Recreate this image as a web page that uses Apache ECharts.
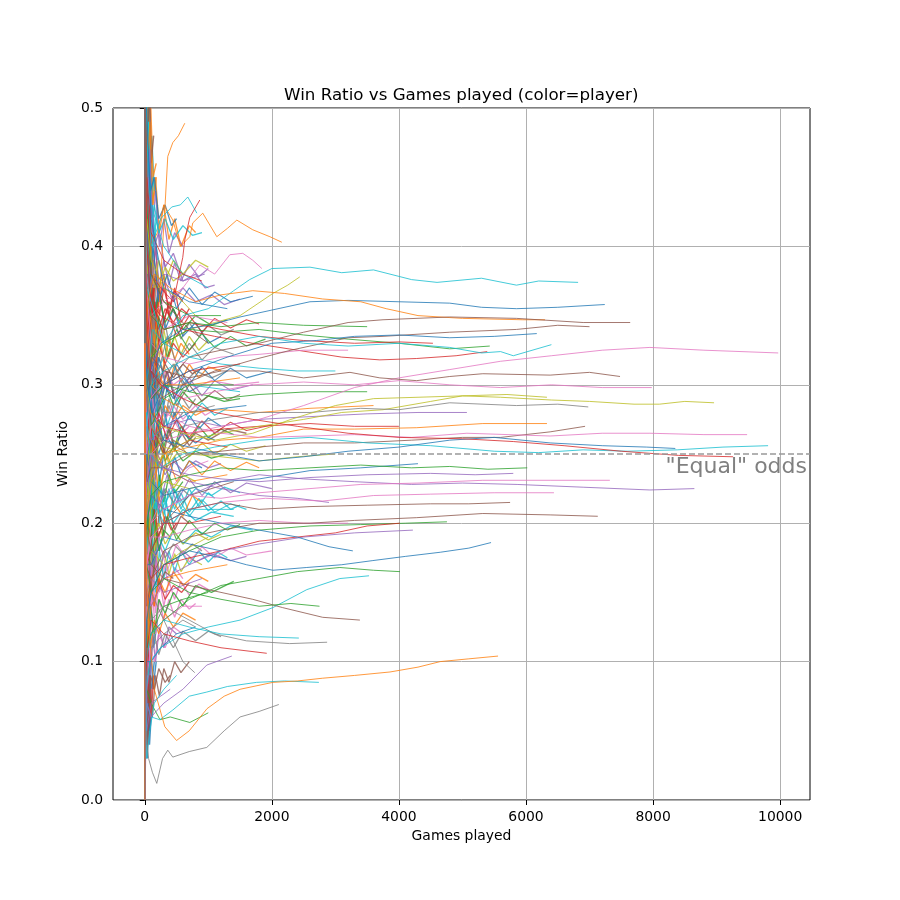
<!DOCTYPE html>
<html>
<head>
<meta charset="utf-8">
<script src="https://cdn.jsdelivr.net/npm/echarts@6/dist/echarts.min.js"></script>
<style>
  html, body { margin: 0; padding: 0; background: #fff; }
  #chart { width: 900px; height: 900px; }
</style>
</head>
<body>
<div id="chart"></div>
<script>
// each run = one player: [games played, win ratio]
const longRuns = [
  [[1,1],[4,0.5],[12,0.33],[40,0.3],[120,0.34],[300,0.33],[600,0.35],[1000,0.355],[1400,0.368],[1650,0.376],[2000,0.384],[2600,0.385],[3100,0.381],[3600,0.383],[4200,0.376],[4600,0.374],[5300,0.377],[5850,0.372],[6200,0.375],[6820,0.374]],
  [[1,0],[3,0.33],[10,0.3],[30,0.27],[90,0.31],[250,0.33],[600,0.34],[1000,0.343],[1500,0.349],[2000,0.354],[2600,0.36],[3200,0.361],[4000,0.36],[4800,0.359],[5300,0.356],[5850,0.355],[6500,0.356],[7240,0.358]],
  [[1,1],[5,0.4],[15,0.33],[50,0.36],[150,0.38],[400,0.37],[800,0.36],[1200,0.365],[1700,0.368],[2200,0.366],[2800,0.362],[3400,0.36],[3800,0.355],[4300,0.35],[5000,0.348],[5950,0.347],[6300,0.347]],
  [[1,0],[4,0.25],[12,0.25],[35,0.29],[100,0.31],[300,0.3],[700,0.32],[1200,0.325],[1800,0.33],[2500,0.338],[3200,0.345],[3750,0.347],[4800,0.349],[5850,0.348],[6900,0.345],[7640,0.345]],
  [[1,1],[3,0.67],[10,0.4],[30,0.33],[90,0.3],[250,0.29],[600,0.3],[1100,0.31],[1700,0.318],[2300,0.325],[3200,0.334],[3750,0.335],[4800,0.338],[5850,0.34],[6500,0.343],[7000,0.342]],
  [[1,0],[4,0.5],[12,0.33],[40,0.3],[120,0.28],[300,0.3],[700,0.31],[1300,0.32],[2000,0.33],[2700,0.332],[3300,0.335],[4000,0.336],[4800,0.334],[5500,0.335],[6170,0.337]],
  [[1,1],[3,0.33],[9,0.22],[30,0.27],[100,0.3],[300,0.31],[700,0.32],[1200,0.33],[1800,0.335],[2500,0.33],[3200,0.328],[4000,0.33],[4800,0.327],[5300,0.323],[5600,0.324],[5800,0.321],[6400,0.329]],
  [[1,0],[3,0.33],[10,0.2],[30,0.23],[100,0.25],[300,0.26],[700,0.265],[1200,0.27],[1800,0.275],[2500,0.285],[3300,0.298],[4000,0.305],[4800,0.311],[5600,0.317],[6400,0.321],[7200,0.325],[7950,0.327],[8800,0.325],[9970,0.323]],
  [[1,1],[4,0.25],[12,0.25],[35,0.3],[110,0.32],[300,0.31],[700,0.305],[1200,0.31],[1800,0.31],[2500,0.305],[3230,0.309],[3700,0.305],[4280,0.303],[4800,0.306],[5320,0.308],[6380,0.307],[7000,0.309],[7480,0.306]],
  [[1,1],[3,0.67],[10,0.3],[30,0.27],[90,0.29],[250,0.3],[600,0.29],[1100,0.295],[1700,0.3],[2500,0.302],[3300,0.3],[4000,0.303],[4800,0.3],[5600,0.298],[6400,0.3],[7200,0.298],[7980,0.298]],
  [[1,0],[4,0.25],[12,0.17],[40,0.22],[120,0.24],[300,0.25],[700,0.26],[1200,0.265],[1800,0.27],[2500,0.275],[3100,0.28],[3750,0.282],[4500,0.288],[5000,0.292],[5600,0.291],[6400,0.289],[7000,0.288],[7700,0.286],[8100,0.286],[8500,0.288],[8960,0.287]],
  [[1,0],[3,0.33],[10,0.3],[30,0.3],[90,0.27],[250,0.26],[600,0.27],[1100,0.275],[1800,0.28],[2600,0.28],[3400,0.283],[4000,0.282],[4800,0.287],[5850,0.285],[6500,0.286],[6980,0.284]],
  [[1,1],[3,0.33],[9,0.33],[30,0.3],[90,0.28],[250,0.27],[600,0.265],[1100,0.26],[1700,0.265],[2300,0.275],[3000,0.285],[3600,0.29],[4300,0.291],[5000,0.292],[5700,0.293],[6330,0.291]],
  [[1,0],[3,0.33],[10,0.2],[30,0.2],[100,0.23],[300,0.25],[700,0.255],[1200,0.26],[1800,0.262],[2500,0.268],[3300,0.268],[4280,0.269],[5320,0.272],[6330,0.272]],
  [[1,1],[4,0.5],[12,0.25],[35,0.23],[100,0.24],[300,0.24],[700,0.25],[1200,0.252],[1800,0.255],[2500,0.258],[3300,0.258],[4200,0.26],[5000,0.262],[5600,0.262],[6380,0.266],[6930,0.27]],
  [[1,0],[3,0.33],[10,0.3],[30,0.25],[100,0.27],[300,0.28],[700,0.27],[1200,0.265],[1800,0.262],[2600,0.263],[3300,0.264],[4200,0.262],[5070,0.265],[6380,0.263],[7200,0.265],[7950,0.265],[8800,0.264],[9480,0.264]],
  [[1,1],[3,0.33],[8,0.25],[25,0.28],[80,0.25],[250,0.24],[600,0.25],[1100,0.255],[1800,0.26],[2600,0.262],[3500,0.258],[4500,0.256],[5500,0.252],[6200,0.251],[6900,0.253],[7600,0.252],[8380,0.253],[9100,0.255],[9810,0.256]],
  [[1,0],[4,0.25],[12,0.33],[35,0.3],[110,0.28],[300,0.26],[700,0.255],[1200,0.25],[1800,0.245],[2500,0.248],[3200,0.252],[4000,0.255],[4800,0.26],[5500,0.262],[6380,0.258],[7200,0.256],[7900,0.255],[8350,0.254]],
  [[1,1],[3,0.67],[10,0.4],[30,0.35],[90,0.31],[250,0.3],[600,0.29],[1100,0.28],[1700,0.275],[2400,0.27],[3200,0.265],[4000,0.262],[5000,0.261],[5800,0.259],[6600,0.256],[7500,0.252],[8400,0.249],[9260,0.248]],
  [[1,0],[3,0.33],[10,0.2],[30,0.2],[100,0.22],[300,0.21],[700,0.22],[1200,0.23],[1800,0.235],[2500,0.232],[3300,0.23],[4200,0.228],[5000,0.229],[5860,0.228],[6900,0.226],[7950,0.224],[8650,0.225]],
  [[1,1],[4,0.25],[12,0.17],[35,0.2],[100,0.22],[300,0.23],[700,0.235],[1200,0.24],[1800,0.238],[2600,0.24],[3400,0.242],[4200,0.24],[4800,0.241],[5400,0.239],[6020,0.24]],
  [[1,0],[3,0],[10,0.1],[30,0.17],[100,0.2],[300,0.21],[700,0.22],[1200,0.218],[1800,0.222],[2600,0.225],[3400,0.228],[4300,0.229],[5320,0.231],[6380,0.231],[7320,0.231]],
  [[1,1],[3,0.33],[9,0.22],[30,0.23],[100,0.25],[300,0.24],[700,0.235],[1200,0.232],[1800,0.23],[2600,0.233],[3500,0.235],[4500,0.236],[5200,0.235],[5800,0.236]],
  [[1,0],[3,0.33],[10,0.2],[30,0.17],[100,0.19],[300,0.2],[700,0.21],[1200,0.215],[1900,0.218],[2800,0.216],[3600,0.22],[4500,0.221],[5500,0.222],[6440,0.222]],
  [[1,0],[4,0.25],[12,0.17],[35,0.14],[100,0.16],[300,0.18],[700,0.19],[1200,0.195],[1800,0.2],[2600,0.2],[3300,0.202],[4280,0.204],[5320,0.207],[6380,0.206],[7130,0.205]],
  [[1,1],[3,0.33],[10,0.2],[30,0.2],[100,0.18],[300,0.2],[700,0.21],[1200,0.215],[1800,0.21],[2600,0.212],[3500,0.213],[4500,0.214],[5100,0.214],[5750,0.215]],
  [[1,0],[3,0],[10,0.1],[30,0.13],[100,0.15],[300,0.17],[700,0.18],[1200,0.175],[1600,0.17],[2016,0.166],[2550,0.168],[3100,0.17],[3590,0.173],[4100,0.176],[4650,0.179],[5100,0.182],[5450,0.186]],
  [[1,0],[3,0.33],[8,0.25],[25,0.16],[70,0.12],[150,0.08],[315,0.053],[500,0.043],[700,0.05],[980,0.066],[1250,0.075],[1500,0.08],[2016,0.085],[2400,0.086],[2800,0.088],[3300,0.09],[3860,0.0925],[4300,0.096],[4650,0.1],[5100,0.102],[5560,0.104]]
];
const longColors = ['cyan','blue','orange','brown','brown','blue','cyan','pink','brown','pink','olive','gray','olive','orange',
  'brown','pink','cyan','blue','red','purple','green','pink','purple','pink','brown','brown','blue','orange'];

const midRuns = [
  [[1,1],[4,0.5],[12,0.33],[35,0.3],[100,0.32],[300,0.33],[700,0.34],[1200,0.338],[1800,0.34],[2500,0.336],[3200,0.333],[4000,0.33],[4800,0.326],[5430,0.328]],
  [[1,0],[3,0.33],[10,0.3],[30,0.33],[90,0.36],[250,0.35],[600,0.34],[1100,0.335],[1700,0.33],[2400,0.325],[3100,0.32],[3700,0.318],[4280,0.319],[4900,0.321],[5390,0.324]],
  [[1,1],[3,0.67],[10,0.5],[30,0.4],[100,0.36],[300,0.34],[700,0.345],[1200,0.34],[1800,0.335],[2500,0.332],[3300,0.33],[4000,0.331],[4535,0.33]],
  [[1,0],[4,0.25],[12,0.33],[35,0.37],[100,0.35],[300,0.34],[700,0.345],[1200,0.342],[1800,0.345],[2500,0.343],[3500,0.342]],
  [[1,0],[3,0],[10,0.1],[30,0.13],[100,0.15],[300,0.17],[700,0.18],[1200,0.19],[1800,0.195],[2600,0.198],[3400,0.199],[4100,0.2],[4756,0.201]],
  [[1,1],[4,0.25],[12,0.17],[35,0.17],[100,0.16],[300,0.17],[700,0.175],[1200,0.18],[1800,0.187],[2400,0.19],[3000,0.193],[3500,0.198],[4016,0.2]],
  [[1,0],[3,0.33],[10,0.2],[30,0.15],[100,0.14],[300,0.16],[700,0.17],[1200,0.18],[1800,0.185],[2500,0.19],[3300,0.193],[4220,0.195]],
  [[1,1],[3,0.33],[9,0.22],[30,0.2],[100,0.22],[300,0.21],[700,0.205],[1200,0.2],[1800,0.195],[2400,0.19],[2900,0.183],[3275,0.18]],
  [[1,0],[4,0.25],[12,0.17],[35,0.11],[100,0.12],[300,0.13],[700,0.145],[1200,0.155],[1800,0.16],[2400,0.165],[3070,0.168],[3600,0.166],[4016,0.165]],
  [[1,0],[3,0.33],[8,0.12],[25,0.08],[80,0.1],[250,0.11],[600,0.12],[1000,0.125],[1500,0.13],[2016,0.139],[2550,0.152],[3070,0.16],[3530,0.162]],
  [[1,1],[3,0.33],[10,0.2],[30,0.18],[100,0.17],[300,0.16],[700,0.155],[1200,0.15],[1700,0.145],[2170,0.139],[2800,0.132],[3386,0.13]],
  [[1,0],[4,0.25],[12,0.08],[35,0.1],[100,0.13],[300,0.14],[700,0.13],[1100,0.12],[1600,0.115],[2280,0.113],[2870,0.114]],
  [[1,0],[3,0],[10,0.1],[30,0.07],[100,0.06],[236,0.058],[441,0.065],[700,0.075],[976,0.078],[1300,0.082],[1760,0.085],[2200,0.086],[2740,0.085]],
  [[1,0],[3,0],[8,0],[20,0.05],[60,0.03],[120,0.02],[189,0.012],[280,0.03],[362,0.036],[441,0.031],[700,0.035],[976,0.038],[1250,0.05],[1500,0.06],[1800,0.064],[2110,0.069]],
  [[1,1],[3,0.33],[10,0.2],[30,0.17],[100,0.15],[300,0.16],[700,0.15],[1200,0.145],[1800,0.14],[2300,0.142],[2750,0.14]],
  [[1,0],[3,0.33],[10,0.1],[30,0.1],[100,0.12],[300,0.13],[700,0.125],[1200,0.12],[1800,0.118],[2425,0.117]],
  [[1,0],[4,0],[12,0.08],[35,0.11],[100,0.13],[300,0.12],[700,0.115],[1200,0.11],[1920,0.106]],
  [[1,1],[3,0.33],[10,0.1],[30,0.07],[100,0.06],[300,0.07],[600,0.08],[976,0.0975],[1370,0.104]],
  [[1,1],[3,0.67],[10,0.3],[30,0.27],[100,0.26],[300,0.27],[700,0.275],[1200,0.27],[1800,0.275],[2600,0.277],[3500,0.279],[4300,0.28],[5070,0.28]],
  [[1,0],[3,0.33],[10,0.3],[30,0.3],[100,0.28],[300,0.27],[700,0.265],[1200,0.268],[1800,0.27],[2600,0.272],[3300,0.27],[4000,0.27]],
  [[1,1],[4,0.5],[12,0.42],[35,0.34],[100,0.3],[300,0.29],[700,0.28],[1200,0.282],[1800,0.28],[2600,0.283],[3600,0.285]],
  [[1,0],[3,0.33],[9,0.33],[30,0.3],[100,0.29],[300,0.3],[700,0.295],[1200,0.29],[1800,0.293],[2600,0.295],[3500,0.295]],
  [[1,1],[3,0.33],[10,0.3],[30,0.25],[100,0.23],[300,0.22],[700,0.225],[1200,0.23],[1800,0.232],[2600,0.238],[3400,0.24],[4300,0.243]],
  [[1,0],[4,0.25],[12,0.25],[35,0.26],[100,0.27],[300,0.255],[700,0.25],[1200,0.248],[1800,0.245],[2400,0.248],[3000,0.25]],
  [[1,1],[3,0.67],[10,0.4],[30,0.3],[100,0.26],[300,0.24],[700,0.23],[1200,0.225],[1800,0.22],[2400,0.218],[2900,0.215]],
  [[1,0],[3,0],[10,0.1],[30,0.17],[100,0.19],[300,0.19],[700,0.195],[1200,0.2],[1800,0.202],[2500,0.2],[3200,0.2]],
  [[1,1],[4,0.5],[12,0.42],[35,0.37],[100,0.36],[300,0.33],[700,0.32],[1200,0.315],[1800,0.312],[2400,0.31],[3000,0.31]],
  [[1,0],[3,0.33],[10,0.4],[30,0.37],[100,0.33],[300,0.32],[700,0.315],[1200,0.32],[1800,0.322],[2500,0.325],[3200,0.325]]
];
const midColors = ['green','red','red','green','green','red','purple','blue','green','cyan','brown','gray','cyan','gray',
  'green','cyan','red','purple','purple','red','orange','green','blue','olive','purple','pink','cyan','pink'];

const shortRuns = [
  [[1,0],[3,0.33],[10,0.3],[30,0.33],[80,0.35],[150,0.33],[230,0.36],[283,0.4025],[315,0.426],[362,0.465],[441,0.475],[530,0.48],[630,0.489]],
  [[1,1],[3,0.67],[10,0.5],[30,0.42],[90,0.4],[200,0.41],[300,0.43],[441,0.419],[560,0.4],[709,0.407],[756,0.417],[913,0.424],[1134,0.407],[1300,0.413],[1449,0.419],[1700,0.412],[1969,0.407],[2157,0.403]],
  [[1,1],[3,0.67],[10,0.5],[30,0.45],[100,0.4],[250,0.42],[425,0.4285],[560,0.43],[677,0.4357],[820,0.424]],
  [[1,0],[3,0.33],[10,0.4],[30,0.45],[100,0.38],[250,0.37],[450,0.36],[598,0.392],[630,0.4046],[709,0.421],[866,0.4335]],
  [[1,1],[3,0.33],[10,0.4],[30,0.38],[100,0.35],[300,0.36],[600,0.37],[866,0.3866],[1100,0.38],[1339,0.394],[1543,0.395],[1700,0.39],[1843,0.384]],
  [[1,0],[4,0.25],[12,0.33],[35,0.34],[100,0.32],[300,0.33],[700,0.34],[1100,0.345],[1500,0.35],[2016,0.366],[2250,0.372],[2440,0.378]],
  [[1,1],[3,0.33],[10,0.3],[30,0.33],[100,0.37],[300,0.38],[600,0.375],[945,0.38]],
  [[1,1],[3,0.67],[10,0.55],[30,0.48],[100,0.43],[300,0.4],[600,0.38],[1000,0.37]],
  [[1,1],[4,0.75],[12,0.5],[35,0.45],[100,0.41],[300,0.39],[600,0.38],[900,0.375]],
  [[1,0],[3,0.33],[10,0.5],[30,0.43],[100,0.38],[300,0.36],[700,0.35],[1200,0.35]],
  [[1,1],[3,0.67],[10,0.6],[30,0.5],[100,0.42],[300,0.37],[700,0.36],[1300,0.355]],
  [[1,0],[4,0.5],[12,0.42],[35,0.4],[100,0.38],[300,0.36],[700,0.34],[1000,0.33]],
  [[1,1],[3,0.33],[10,0.4],[30,0.42],[100,0.39],[300,0.37],[600,0.36],[800,0.35]],
  [[1,0],[3,0.33],[10,0.3],[30,0.35],[100,0.32],[300,0.3],[700,0.3],[1500,0.305]],
  [[1,1],[3,0.33],[10,0.3],[30,0.28],[100,0.3],[300,0.28],[700,0.28],[1100,0.285]],
  [[1,0],[3,0],[10,0.2],[30,0.25],[100,0.27],[300,0.25],[700,0.26],[1300,0.255]],
  [[1,1],[3,0.67],[10,0.3],[30,0.22],[100,0.2],[300,0.22],[700,0.24],[1000,0.245]],
  [[1,0],[4,0.25],[12,0.17],[35,0.2],[100,0.22],[300,0.2],[700,0.21],[1400,0.21]],
  [[1,0],[3,0.33],[10,0.2],[30,0.17],[100,0.17],[300,0.19],[700,0.185],[1200,0.18]],
  [[1,1],[3,0.33],[10,0.2],[30,0.15],[100,0.16],[300,0.15],[600,0.155],[900,0.16]],
  [[1,0],[3,0.33],[10,0.1],[30,0.1],[100,0.12],[300,0.14],[600,0.145],[1000,0.15]],
  [[1,0],[4,0],[12,0.08],[35,0.11],[100,0.14],[300,0.16],[700,0.165],[1300,0.17]],
  [[1,1],[3,0.33],[10,0.2],[30,0.2],[100,0.18],[300,0.17],[600,0.18],[1000,0.19]],
  [[1,0],[3,0],[10,0.1],[30,0.13],[100,0.11],[300,0.12],[600,0.13],[800,0.125]],
  [[1,0],[3,0.33],[10,0.2],[30,0.13],[100,0.15],[300,0.13],[600,0.14],[900,0.14]],
  [[1,1],[4,0.25],[12,0.25],[35,0.27],[100,0.3],[300,0.32],[700,0.3],[1500,0.295]],
  [[1,1],[3,0.67],[10,0.4],[30,0.32],[100,0.29],[300,0.3],[700,0.31],[1500,0.315]],
  [[1,0],[3,0],[10,0.1],[30,0.08],[100,0.07],[240,0.058],[400,0.06],[709,0.056],[1000,0.063]],
  [[1,0],[3,0.33],[10,0.1],[30,0.12],[100,0.15],[300,0.13],[600,0.1],[787,0.092]],
  [[1,0],[3,0],[10,0.1],[30,0.05],[100,0.07],[250,0.075],[400,0.08]],
  [[1,1],[3,0.33],[10,0.2],[30,0.25],[100,0.26],[300,0.27],[700,0.28],[1600,0.285]],
  [[1,0],[4,0.25],[12,0.25],[35,0.23],[100,0.25],[300,0.26],[700,0.25],[1500,0.25]],
  [[1,1],[3,0.67],[10,0.5],[30,0.35],[100,0.31],[300,0.34],[700,0.35],[1300,0.345]],
  [[1,0],[3,0.33],[10,0.3],[30,0.23],[100,0.21],[300,0.23],[700,0.225],[1200,0.23]],
  [[1,1],[3,0.33],[10,0.2],[30,0.17],[100,0.18],[300,0.2],[700,0.2],[1200,0.205]],
  [[1,1],[3,0.67],[10,0.4],[30,0.3],[100,0.26],[300,0.24],[700,0.23],[1300,0.235]],
  [[1,0],[3,0],[10,0.1],[30,0.1],[100,0.1],[250,0.11],[500,0.12],[800,0.125]],
  [[1,0],[3,0.33],[9,0.11],[30,0.03],[80,0.05],[150,0.07],[300,0.08],[500,0.09]],
  [[1,1],[4,0.25],[12,0.25],[35,0.29],[100,0.27],[300,0.29],[700,0.3],[1400,0.3]],
  [[1,0],[3,0.33],[10,0.3],[30,0.2],[100,0.19],[300,0.2],[700,0.22],[1400,0.23]]
];
const shortColors = ['orange','orange','cyan','red','pink','olive','purple','cyan','red','green','blue','brown','olive','orange',
  'gray','red','pink','cyan','blue','purple','green','orange','olive','gray','pink','cyan','red','green','gray','purple',
  'blue','brown','pink','olive','red','orange','blue','cyan','green','brown'];

// players with a few hundred to ~1800 games: the dense fan on the left
const fanRuns = [
  [[1,1],[3,0.67],[8,0.5],[20,0.4],[45,0.36],[90,0.38],[150,0.35],[220,0.37],[320,0.34],[450,0.355],[600,0.335],[800,0.345],[1000,0.33],[1200,0.335]],
  [[1,0],[3,0.33],[8,0.25],[20,0.15],[45,0.18],[90,0.21],[150,0.19],[220,0.22],[320,0.2],[450,0.215],[600,0.205],[750,0.22],[900,0.215]],
  [[1,1],[3,0.33],[8,0.38],[20,0.3],[45,0.33],[90,0.29],[150,0.31],[220,0.28],[320,0.3],[450,0.285],[600,0.295],[800,0.285],[1000,0.292],[1250,0.288],[1500,0.29]],
  [[1,0],[3,0],[8,0.13],[20,0.1],[45,0.13],[90,0.16],[150,0.14],[220,0.16],[320,0.145],[450,0.155],[580,0.15],[700,0.157]],
  [[1,1],[3,0.67],[8,0.5],[20,0.45],[45,0.42],[90,0.44],[150,0.4],[220,0.41],[320,0.385],[450,0.395],[600,0.375],[800,0.38],[950,0.37],[1100,0.372]],
  [[1,0],[3,0.33],[8,0.25],[20,0.3],[45,0.24],[90,0.27],[150,0.25],[220,0.265],[320,0.25],[450,0.26],[600,0.255],[800,0.265],[1000,0.26],[1300,0.268],[1600,0.265]],
  [[1,0],[3,0],[8,0],[20,0.05],[45,0.09],[90,0.11],[150,0.1],[220,0.12],[320,0.11],[450,0.125],[600,0.12]],
  [[1,1],[3,0.33],[8,0.25],[20,0.35],[45,0.31],[90,0.33],[150,0.3],[220,0.32],[320,0.305],[450,0.315],[600,0.3],[800,0.31],[1050,0.305],[1300,0.31]],
  [[1,0],[3,0.33],[8,0.13],[20,0.2],[45,0.27],[90,0.23],[150,0.25],[220,0.22],[320,0.24],[450,0.225],[600,0.235],[800,0.23]],
  [[1,0],[3,0.33],[8,0.25],[20,0.2],[45,0.16],[90,0.19],[150,0.17],[220,0.19],[320,0.18],[450,0.195],[600,0.185],[800,0.195],[1050,0.19],[1350,0.198],[1700,0.195]],
  [[1,1],[3,0.67],[8,0.62],[20,0.5],[45,0.47],[90,0.44],[150,0.45],[220,0.42],[320,0.43],[420,0.415],[500,0.42]],
  [[1,1],[3,0.67],[8,0.38],[20,0.25],[45,0.29],[90,0.26],[150,0.28],[220,0.265],[320,0.285],[450,0.275],[600,0.285],[800,0.278],[1000,0.283]],
  [[1,0],[3,0],[8,0.13],[20,0.15],[45,0.11],[90,0.14],[150,0.12],[220,0.145],[320,0.135],[450,0.15],[600,0.14],[800,0.155],[1050,0.15],[1400,0.158]],
  [[1,0],[3,0.33],[8,0.38],[20,0.4],[45,0.36],[90,0.33],[150,0.36],[220,0.34],[320,0.355],[450,0.345],[580,0.355],[700,0.35]],
  [[1,1],[3,0.33],[8,0.25],[20,0.2],[45,0.22],[90,0.25],[150,0.23],[220,0.245],[320,0.235],[450,0.245],[600,0.238],[800,0.245],[1000,0.24],[1200,0.243]],
  [[1,0],[3,0],[8,0.13],[20,0.1],[45,0.07],[90,0.09],[150,0.08],[220,0.095],[320,0.085],[400,0.09]],
  [[1,1],[3,0.67],[8,0.5],[20,0.35],[45,0.33],[90,0.3],[150,0.32],[220,0.3],[320,0.31],[450,0.3],[600,0.305],[800,0.298],[1050,0.303],[1400,0.3],[1800,0.302]],
  [[1,0],[3,0.33],[8,0.13],[20,0.2],[45,0.16],[90,0.19],[150,0.17],[220,0.185],[320,0.175],[450,0.185],[600,0.178],[750,0.185],[900,0.18]],
  [[1,1],[3,0.33],[8,0.5],[20,0.45],[45,0.4],[90,0.37],[150,0.39],[220,0.37],[320,0.385],[450,0.375],[600,0.38]],
  [[1,0],[3,0.33],[8,0.25],[20,0.25],[45,0.2],[90,0.23],[150,0.21],[220,0.23],[320,0.215],[450,0.225],[600,0.215],[800,0.225],[1050,0.22],[1250,0.226],[1500,0.222]],
  [[1,1],[3,0.33],[8,0.38],[20,0.3],[45,0.27],[90,0.24],[150,0.26],[220,0.25],[320,0.265],[450,0.255],[600,0.265],[800,0.258],[950,0.263],[1100,0.26]],
  [[1,0],[3,0],[8,0.13],[20,0.15],[45,0.13],[90,0.11],[150,0.13],[220,0.12],[320,0.135],[450,0.125],[600,0.135],[800,0.13]],
  [[1,1],[3,0.67],[8,0.38],[20,0.4],[45,0.36],[90,0.38],[150,0.35],[220,0.365],[320,0.345],[450,0.355],[600,0.34],[800,0.35],[1050,0.343],[1300,0.347]],
  [[1,0],[3,0.33],[8,0.25],[20,0.25],[45,0.22],[90,0.18],[150,0.21],[220,0.19],[320,0.205],[420,0.195],[500,0.2]],
  [[1,0],[3,0],[8,0.13],[20,0.2],[45,0.18],[90,0.16],[150,0.18],[220,0.165],[320,0.18],[450,0.17],[600,0.18],[800,0.172],[1050,0.178],[1350,0.173],[1600,0.176]],
  [[1,1],[3,0.33],[8,0.25],[20,0.3],[45,0.33],[90,0.3],[150,0.32],[220,0.3],[320,0.315],[450,0.305],[600,0.315],[750,0.308],[900,0.312]],
  [[1,0],[3,0.33],[8,0.38],[20,0.3],[45,0.27],[90,0.29],[150,0.26],[220,0.28],[320,0.265],[450,0.275],[580,0.265],[700,0.27]],
  [[1,0],[3,0],[8,0],[20,0.1],[45,0.09],[90,0.1],[150,0.12],[220,0.105],[320,0.12],[450,0.11],[600,0.122],[800,0.115],[1000,0.122],[1200,0.118]],
  [[1,1],[3,0.67],[8,0.5],[20,0.4],[45,0.38],[90,0.4],[150,0.37],[220,0.39],[320,0.375],[450,0.39],[600,0.38],[800,0.39],[1000,0.385]],
  [[1,0],[3,0.33],[8,0.25],[20,0.2],[45,0.24],[90,0.21],[150,0.23],[220,0.205],[320,0.215],[450,0.2],[600,0.21],[800,0.202],[1050,0.208],[1400,0.205]],
  [[1,1],[3,0.67],[8,0.38],[20,0.35],[45,0.31],[90,0.28],[150,0.3],[220,0.285],[320,0.3],[450,0.29],[600,0.3]],
  [[1,0],[3,0.33],[8,0.13],[20,0.1],[45,0.13],[90,0.16],[150,0.14],[220,0.16],[320,0.15],[450,0.165],[600,0.155],[800,0.163],[1000,0.158]],
  [[1,1],[3,0.33],[8,0.25],[20,0.2],[45,0.24],[90,0.27],[150,0.25],[220,0.26],[320,0.245],[450,0.255],[600,0.245],[800,0.252],[1050,0.247],[1300,0.25]],
  [[1,0],[3,0.33],[8,0.25],[20,0.3],[45,0.29],[90,0.32],[150,0.3],[220,0.33],[320,0.315],[450,0.33],[600,0.32],[800,0.33]],
  [[1,1],[3,0.67],[8,0.5],[20,0.45],[45,0.4],[90,0.37],[150,0.39],[220,0.36],[320,0.375],[450,0.36],[600,0.37],[800,0.36],[1050,0.365],[1250,0.358],[1500,0.362]],
  [[1,0],[3,0],[8,0.13],[20,0.15],[45,0.18],[90,0.15],[150,0.17],[220,0.155],[320,0.165],[450,0.16]],
  [[1,0],[3,0.33],[8,0.38],[20,0.3],[45,0.27],[90,0.3],[150,0.28],[220,0.295],[320,0.275],[450,0.285],[600,0.275],[800,0.285],[950,0.278],[1100,0.282]],
  [[1,1],[3,0.33],[8,0.13],[20,0.2],[45,0.22],[90,0.2],[150,0.23],[220,0.21],[320,0.225],[450,0.215],[580,0.225],[700,0.22]],
  [[1,0],[3,0.33],[8,0.25],[20,0.15],[45,0.18],[90,0.21],[150,0.19],[220,0.2],[320,0.185],[450,0.195],[600,0.185],[800,0.193],[1000,0.188],[1200,0.192]],
  [[1,1],[3,0.67],[8,0.62],[20,0.5],[45,0.44],[90,0.41],[150,0.43],[220,0.41],[320,0.42],[450,0.405],[600,0.415],[750,0.408],[900,0.41]]
];
const fanColors = ['blue','orange','green','red','purple','brown','pink','gray','olive','cyan',
  'blue','orange','green','red','purple','brown','pink','gray','olive','cyan',
  'blue','orange','green','red','purple','brown','pink','gray','olive','cyan',
  'blue','orange','green','red','purple','brown','pink','gray','olive','cyan'];

// more of the fan, with the zig-zag of the first few hundred games
const zigRuns = [
  [[1,1],[3,0.67],[10,0.5],[25,0.44],[50,0.4],[80,0.43],[120,0.38],[170,0.4],[230,0.36],[300,0.38],[380,0.35],[470,0.37],[570,0.345],[700,0.355]],
  [[1,0],[3,0.33],[10,0.2],[25,0.28],[50,0.2],[80,0.25],[120,0.19],[170,0.23],[230,0.2],[300,0.225],[380,0.205],[470,0.225],[570,0.21],[700,0.225],[850,0.212],[1000,0.222],[1100,0.218]],
  [[1,1],[3,0.33],[10,0.4],[25,0.32],[50,0.36],[80,0.29],[120,0.33],[170,0.28],[230,0.31],[300,0.285],[380,0.305],[470,0.29],[570,0.305],[700,0.295],[900,0.3]],
  [[1,0],[3,0],[10,0.1],[25,0.2],[50,0.14],[80,0.19],[120,0.15],[170,0.18],[230,0.15],[300,0.17],[380,0.155],[470,0.168],[600,0.16]],
  [[1,1],[3,0.67],[10,0.6],[25,0.52],[50,0.46],[80,0.49],[120,0.43],[170,0.45],[230,0.41],[300,0.43],[380,0.405],[470,0.42],[570,0.4],[700,0.415],[800,0.41]],
  [[1,0],[3,0.33],[10,0.3],[25,0.24],[50,0.3],[80,0.24],[120,0.28],[170,0.25],[230,0.275],[300,0.255],[380,0.27],[470,0.255],[570,0.27],[700,0.26],[850,0.27],[1000,0.262],[1200,0.268],[1400,0.264]],
  [[1,0],[3,0],[10,0.1],[25,0.04],[50,0.1],[80,0.08],[120,0.12],[170,0.1],[230,0.125],[300,0.11],[380,0.125],[500,0.12]],
  [[1,1],[3,0.33],[10,0.3],[25,0.4],[50,0.32],[80,0.36],[120,0.31],[170,0.345],[230,0.32],[300,0.34],[380,0.32],[470,0.335],[570,0.322],[700,0.335],[850,0.325],[1000,0.332]],
  [[1,0],[3,0.33],[10,0.1],[25,0.16],[50,0.24],[80,0.18],[120,0.22],[170,0.18],[230,0.21],[300,0.19],[380,0.21],[470,0.195],[570,0.205],[700,0.2]],
  [[1,1],[3,0.67],[10,0.4],[25,0.28],[50,0.32],[80,0.26],[120,0.3],[170,0.26],[230,0.29],[300,0.27],[380,0.285],[470,0.272],[600,0.28]],
  [[1,0],[3,0],[10,0.2],[25,0.12],[50,0.18],[80,0.14],[120,0.19],[170,0.15],[230,0.18],[300,0.16],[380,0.18],[470,0.165],[570,0.18],[700,0.17],[850,0.18],[1000,0.172],[1150,0.179],[1300,0.175]],
  [[1,0],[3,0.33],[10,0.5],[25,0.36],[50,0.42],[80,0.35],[120,0.38],[170,0.34],[230,0.37],[300,0.345],[380,0.36],[500,0.35]],
  [[1,1],[3,0.33],[10,0.2],[25,0.32],[50,0.22],[80,0.27],[120,0.22],[170,0.26],[230,0.23],[300,0.25],[380,0.232],[470,0.248],[570,0.235],[700,0.245],[900,0.24]],
  [[1,0],[3,0.33],[10,0.1],[25,0.08],[50,0.14],[80,0.1],[120,0.15],[170,0.12],[230,0.145],[300,0.13],[380,0.145],[470,0.132],[570,0.145],[700,0.138],[800,0.142]],
  [[1,1],[3,0.67],[10,0.3],[25,0.36],[50,0.28],[80,0.33],[120,0.29],[170,0.32],[230,0.295],[300,0.315],[380,0.3],[470,0.315],[570,0.302],[700,0.315],[850,0.305],[1000,0.313],[1200,0.31]],
  [[1,0],[3,0],[10,0.3],[25,0.2],[50,0.16],[80,0.21],[120,0.17],[170,0.2],[230,0.18],[300,0.195],[400,0.19]],
  [[1,1],[3,1],[10,0.5],[25,0.44],[50,0.38],[80,0.42],[120,0.37],[170,0.4],[230,0.37],[300,0.39],[380,0.372],[470,0.388],[570,0.375],[700,0.387],[850,0.378],[1000,0.384]],
  [[1,0],[3,0.33],[10,0.2],[25,0.28],[50,0.22],[80,0.27],[120,0.23],[170,0.26],[230,0.24],[300,0.255],[380,0.243],[500,0.25]],
  [[1,0],[3,0],[10,0],[25,0.08],[50,0.04],[80,0.09],[120,0.06],[170,0.09],[230,0.075],[300,0.095],[380,0.085],[470,0.1],[570,0.092],[700,0.1]],
  [[1,1],[3,0.33],[10,0.2],[25,0.24],[50,0.3],[80,0.25],[120,0.29],[170,0.26],[230,0.29],[300,0.27],[380,0.29],[470,0.277],[570,0.292],[700,0.283],[800,0.29]],
  [[1,1],[3,0.33],[10,0.3],[25,0.2],[50,0.26],[80,0.19],[120,0.24],[170,0.2],[230,0.23],[300,0.205],[380,0.225],[470,0.21],[570,0.222],[700,0.208],[850,0.218],[1000,0.209],[1200,0.216],[1350,0.21],[1500,0.213]],
  [[1,0],[3,0.33],[10,0.4],[25,0.44],[50,0.36],[80,0.4],[120,0.35],[170,0.38],[230,0.35],[300,0.37],[380,0.355],[470,0.368],[600,0.36]],
  [[1,0],[3,0.33],[10,0.3],[25,0.36],[50,0.28],[80,0.32],[120,0.27],[170,0.3],[230,0.265],[300,0.285],[380,0.265],[470,0.28],[570,0.265],[700,0.278],[850,0.268],[1000,0.276],[1200,0.27]],
  [[1,1],[3,0.33],[10,0.2],[25,0.12],[50,0.18],[80,0.13],[120,0.17],[170,0.135],[230,0.16],[300,0.14],[380,0.158],[470,0.145],[570,0.158],[700,0.148],[850,0.156],[1000,0.152]],
  [[1,1],[3,0.67],[10,0.5],[25,0.32],[50,0.38],[80,0.31],[120,0.35],[170,0.31],[230,0.34],[300,0.315],[380,0.335],[470,0.318],[570,0.33],[700,0.322]],
  [[1,0],[3,0],[10,0.2],[25,0.16],[50,0.22],[80,0.18],[120,0.24],[170,0.2],[230,0.235],[300,0.215],[380,0.235],[470,0.222],[600,0.23]],
  [[1,1],[3,0.67],[10,0.7],[25,0.48],[50,0.44],[80,0.47],[120,0.41],[170,0.44],[230,0.4],[300,0.42],[380,0.395],[470,0.41],[600,0.4]],
  [[1,0],[3,0.33],[10,0.1],[25,0.2],[50,0.14],[80,0.2],[120,0.15],[170,0.19],[230,0.16],[300,0.18],[380,0.163],[470,0.178],[570,0.165],[700,0.175],[900,0.17]],
  [[1,1],[3,0.33],[10,0.4],[25,0.24],[50,0.3],[80,0.24],[120,0.28],[170,0.24],[230,0.27],[300,0.25],[380,0.268],[470,0.252],[570,0.266],[700,0.256],[800,0.262]],
  [[1,0],[3,0.33],[10,0.3],[25,0.4],[50,0.33],[80,0.38],[120,0.32],[170,0.36],[230,0.33],[300,0.35],[380,0.33],[470,0.345],[570,0.333],[700,0.345],[850,0.335],[1000,0.343],[1200,0.336],[1400,0.34]]
];
const zigColors = ['red','cyan','blue','pink','orange','green','purple','olive','brown','gray',
  'cyan','red','blue','pink','orange','green','purple','olive','brown','gray',
  'cyan','red','blue','pink','orange','green','purple','olive','brown','gray'];

// players stopping between ~1300 and ~2000 games
const midFanRuns = [
  [[1,1],[3,0.33],[10,0.4],[30,0.3],[70,0.36],[130,0.31],[220,0.35],[350,0.32],[500,0.34],[700,0.325],[900,0.337],[1100,0.327],[1350,0.335],[1600,0.328],[1900,0.333]],
  [[1,0],[3,0.33],[10,0.2],[30,0.33],[70,0.27],[130,0.32],[220,0.28],[350,0.31],[500,0.29],[700,0.305],[900,0.292],[1100,0.303],[1350,0.296],[1700,0.3]],
  [[1,1],[3,0.67],[10,0.3],[30,0.23],[70,0.29],[130,0.25],[220,0.28],[350,0.26],[500,0.275],[700,0.262],[900,0.274],[1100,0.265],[1350,0.273],[1600,0.267],[2000,0.271]],
  [[1,0],[3,0],[10,0.3],[30,0.27],[70,0.21],[130,0.26],[220,0.22],[350,0.25],[500,0.23],[700,0.245],[900,0.235],[1100,0.245],[1350,0.238],[1600,0.244],[1800,0.24]],
  [[1,1],[3,0.33],[10,0.1],[30,0.17],[70,0.24],[130,0.19],[220,0.23],[350,0.2],[500,0.22],[700,0.205],[900,0.217],[1100,0.208],[1350,0.214],[1600,0.21]],
  [[1,0],[3,0.67],[10,0.5],[30,0.43],[70,0.37],[130,0.4],[220,0.36],[350,0.38],[500,0.355],[700,0.37],[900,0.358],[1100,0.367],[1350,0.36],[1700,0.364]],
  [[1,0],[3,0.33],[10,0.2],[30,0.13],[70,0.19],[130,0.15],[220,0.19],[350,0.165],[500,0.185],[700,0.172],[900,0.183],[1100,0.175],[1350,0.182],[1600,0.177],[2000,0.18]],
  [[1,1],[3,0.33],[10,0.3],[30,0.37],[70,0.3],[130,0.33],[220,0.29],[350,0.31],[500,0.285],[700,0.3],[900,0.288],[1100,0.296],[1300,0.289],[1500,0.293]],
  [[1,0],[3,0.33],[10,0.2],[30,0.2],[70,0.26],[130,0.22],[220,0.26],[350,0.24],[500,0.26],[700,0.248],[900,0.258],[1100,0.25],[1350,0.257],[1600,0.252],[1900,0.256]],
  [[1,1],[3,0.67],[10,0.4],[30,0.37],[70,0.31],[130,0.35],[220,0.31],[350,0.335],[500,0.315],[700,0.33],[900,0.318],[1100,0.327],[1400,0.322]],
  [[1,0],[3,0],[10,0.2],[30,0.27],[70,0.21],[130,0.25],[220,0.21],[350,0.235],[500,0.215],[700,0.232],[900,0.22],[1100,0.23],[1350,0.222],[1600,0.229],[2000,0.225]],
  [[1,1],[3,0.33],[10,0.2],[30,0.27],[70,0.31],[130,0.26],[220,0.3],[350,0.27],[500,0.29],[700,0.275],[900,0.287],[1100,0.278],[1300,0.283]],
  [[1,0],[3,0.33],[10,0.3],[30,0.37],[70,0.33],[130,0.37],[220,0.33],[350,0.355],[500,0.335],[700,0.35],[900,0.338],[1100,0.348],[1350,0.341],[1600,0.347],[1800,0.344]],
  [[1,1],[3,0.33],[10,0.2],[30,0.23],[70,0.17],[130,0.21],[220,0.18],[350,0.205],[500,0.188],[700,0.202],[900,0.192],[1100,0.2],[1300,0.195],[1500,0.199]],
  [[1,0],[3,0.33],[10,0.4],[30,0.3],[70,0.34],[130,0.29],[220,0.32],[350,0.295],[500,0.315],[700,0.3],[900,0.313],[1100,0.303],[1350,0.312],[1600,0.305],[2000,0.31]]
];
const midFanColors = ['green','purple','red','orange','cyan','blue','pink','brown','olive','gray','purple','cyan','red','green','blue'];

// players with under ~300 games: the solid band next to x = 0
const tinyRuns = [
  [[1,1],[2,0.5],[4,0.5],[7,0.43],[12,0.5],[20,0.45],[35,0.4],[60,0.42],[100,0.38],[150,0.4]],
  [[1,0],[3,0],[6,0.17],[10,0.1],[18,0.17],[30,0.13],[50,0.16],[80,0.15],[120,0.18]],
  [[1,1],[2,1],[5,0.6],[9,0.44],[15,0.4],[25,0.32],[40,0.35],[70,0.3],[110,0.33],[180,0.31]],
  [[1,0],[2,0.5],[5,0.4],[8,0.25],[14,0.21],[22,0.27],[35,0.23],[55,0.25],[90,0.22],[140,0.24]],
  [[1,1],[3,0.67],[6,0.5],[10,0.6],[16,0.5],[26,0.46],[40,0.43],[65,0.46],[100,0.44]],
  [[1,0],[3,0.33],[6,0.33],[11,0.27],[18,0.33],[28,0.29],[45,0.31],[75,0.27],[120,0.29],[200,0.28]],
  [[1,0],[4,0],[8,0.12],[14,0.07],[22,0.09],[35,0.06],[55,0.09],[85,0.1]],
  [[1,1],[2,0.5],[5,0.2],[9,0.33],[16,0.25],[25,0.2],[40,0.18],[65,0.2],[100,0.19],[160,0.21]],
  [[1,0],[2,0.5],[4,0.5],[8,0.38],[13,0.38],[22,0.41],[35,0.37],[55,0.4],[90,0.36],[140,0.37]],
  [[1,1],[3,0.33],[5,0.2],[9,0.11],[15,0.13],[24,0.17],[38,0.13],[60,0.15],[95,0.14]],
  [[1,0],[3,0.33],[7,0.29],[12,0.33],[20,0.3],[32,0.34],[50,0.3],[80,0.33],[130,0.32],[200,0.33]],
  [[1,1],[2,0.5],[6,0.33],[10,0.3],[17,0.24],[28,0.25],[44,0.27],[70,0.24],[110,0.26]],
  [[1,0],[3,0],[6,0.17],[12,0.25],[20,0.2],[30,0.23],[48,0.21],[75,0.19],[120,0.2],[190,0.19]],
  [[1,1],[2,0.5],[4,0.75],[8,0.5],[13,0.46],[21,0.48],[33,0.42],[52,0.44],[80,0.41]],
  [[1,0],[3,0.33],[6,0.17],[10,0.1],[17,0.06],[27,0.11],[42,0.07],[65,0.09],[100,0.08],[150,0.1]],
  [[1,1],[3,0.67],[7,0.43],[12,0.42],[20,0.35],[31,0.39],[48,0.35],[75,0.37],[115,0.35],[175,0.36]],
  [[1,0],[2,0],[5,0.2],[9,0.22],[14,0.29],[23,0.26],[36,0.28],[56,0.25],[88,0.27],[135,0.26]],
  [[1,1],[3,0.33],[6,0.5],[11,0.36],[18,0.39],[29,0.34],[46,0.37],[72,0.33],[112,0.35]],
  [[1,0],[4,0.25],[8,0.13],[13,0.15],[21,0.19],[34,0.15],[53,0.18],[83,0.16],[130,0.17]],
  [[1,1],[2,0.5],[5,0.4],[9,0.33],[15,0.27],[24,0.29],[38,0.32],[60,0.28],[95,0.3],[150,0.29]],
  [[1,0],[3,0.33],[6,0.5],[10,0.4],[16,0.44],[26,0.38],[41,0.42],[64,0.39],[100,0.41]],
  [[1,1],[3,0.33],[7,0.14],[12,0.17],[20,0.1],[32,0.13],[50,0.12],[80,0.14],[125,0.13]],
  [[1,0],[2,0.5],[5,0.4],[9,0.22],[15,0.33],[24,0.25],[38,0.29],[60,0.23],[95,0.26],[150,0.24]],
  [[1,1],[2,1],[4,0.75],[7,0.57],[12,0.5],[19,0.47],[30,0.43],[47,0.47],[75,0.43],[120,0.45]],
  [[1,0],[3,0],[6,0],[10,0.1],[16,0.06],[26,0.04],[41,0.07],[64,0.05],[100,0.06]],
  [[1,1],[3,0.67],[6,0.5],[10,0.6],[15,0.47],[22,0.55],[30,0.43],[40,0.5],[55,0.4],[75,0.45],[100,0.38],[140,0.42],[200,0.39]],
  [[1,0],[3,0.33],[6,0.17],[10,0.3],[15,0.13],[22,0.23],[30,0.1],[40,0.2],[55,0.13],[75,0.19],[100,0.14],[140,0.18],[200,0.16]],
  [[1,1],[2,0.5],[5,0.8],[9,0.56],[14,0.64],[20,0.5],[28,0.57],[38,0.47],[52,0.52],[70,0.44],[95,0.47],[130,0.43],[180,0.45]],
  [[1,0],[2,0],[5,0.2],[9,0.11],[14,0.21],[20,0.1],[28,0.18],[38,0.08],[52,0.13],[70,0.07],[95,0.11],[130,0.08],[180,0.1]],
  [[1,1],[3,0.33],[6,0.5],[10,0.3],[15,0.4],[22,0.27],[30,0.37],[40,0.28],[55,0.35],[75,0.27],[100,0.32],[140,0.28],[200,0.31],[280,0.29]],
  [[1,0],[3,0.67],[6,0.33],[10,0.5],[15,0.33],[22,0.45],[30,0.3],[40,0.4],[55,0.31],[75,0.37],[100,0.3],[140,0.34],[200,0.31]],
  [[1,1],[2,1],[4,0.75],[7,0.86],[11,0.64],[16,0.69],[23,0.57],[32,0.59],[44,0.5],[60,0.53],[80,0.46],[110,0.48],[150,0.44]],
  [[1,0],[3,0],[6,0.17],[10,0.2],[15,0.07],[22,0.14],[30,0.07],[40,0.12],[55,0.05],[75,0.09],[100,0.06],[140,0.09]],
  [[1,1],[3,0.67],[6,0.33],[10,0.4],[15,0.27],[22,0.36],[30,0.23],[40,0.3],[55,0.22],[75,0.28],[100,0.23],[140,0.26],[200,0.24],[300,0.25]],
  [[1,0],[2,0.5],[5,0.2],[9,0.33],[14,0.21],[20,0.3],[28,0.21],[38,0.29],[52,0.19],[70,0.26],[95,0.2],[130,0.23],[180,0.21],[250,0.22]],
  [[1,1],[3,1],[6,0.67],[10,0.7],[15,0.53],[22,0.59],[30,0.47],[40,0.55],[55,0.44],[75,0.49],[100,0.42],[140,0.45]],
  [[1,0],[3,0.33],[6,0.33],[10,0.2],[15,0.33],[22,0.18],[30,0.27],[40,0.18],[55,0.24],[75,0.17],[100,0.21],[140,0.17],[200,0.19]],
  [[1,1],[2,0.5],[5,0.6],[9,0.44],[14,0.57],[20,0.4],[28,0.5],[38,0.39],[52,0.46],[70,0.36],[95,0.41],[130,0.36],[180,0.38]],
  [[1,0],[3,0],[6,0],[10,0.1],[15,0.2],[22,0.09],[30,0.17],[40,0.1],[55,0.16],[75,0.11],[100,0.14],[140,0.11],[200,0.13]],
  [[1,1],[3,0.33],[6,0.33],[10,0.5],[15,0.33],[22,0.41],[30,0.3],[40,0.38],[55,0.29],[75,0.35],[100,0.29],[140,0.33],[200,0.3]],
  [[1,0],[2,0.5],[4,0.25],[7,0.43],[11,0.27],[16,0.38],[23,0.26],[32,0.34],[44,0.25],[60,0.3],[80,0.24],[110,0.28],[150,0.25],[210,0.27]],
  [[1,1],[2,0.5],[5,0.8],[9,0.67],[14,0.71],[20,0.6],[28,0.64],[38,0.53],[52,0.56],[70,0.49],[95,0.5],[130,0.45],[180,0.46]],
  [[1,0],[3,0.33],[6,0.17],[10,0.1],[15,0.2],[22,0.05],[30,0.13],[40,0.05],[55,0.11],[75,0.05],[100,0.08]],
  [[1,1],[3,0.67],[6,0.5],[10,0.3],[15,0.4],[22,0.32],[30,0.4],[40,0.33],[55,0.38],[75,0.32],[100,0.36],[140,0.32],[200,0.35],[280,0.33]],
  [[1,0],[2,0],[4,0.25],[7,0.14],[11,0.27],[16,0.19],[23,0.26],[32,0.16],[44,0.23],[60,0.15],[80,0.2],[110,0.15],[150,0.18]],
  [[1,1],[3,0.33],[6,0.67],[10,0.5],[15,0.6],[22,0.45],[30,0.53],[40,0.43],[55,0.49],[75,0.4],[100,0.45],[140,0.4],[200,0.43]],
  [[1,0],[3,0.33],[6,0.5],[10,0.3],[15,0.27],[22,0.36],[30,0.27],[40,0.33],[55,0.25],[75,0.31],[100,0.26],[140,0.29],[200,0.27]],
  [[1,1],[2,0.5],[5,0.4],[9,0.22],[14,0.29],[20,0.15],[28,0.25],[38,0.16],[52,0.23],[70,0.14],[95,0.19],[130,0.15],[180,0.18]],
  [[1,0],[3,0.67],[6,0.67],[10,0.6],[15,0.53],[22,0.5],[30,0.57],[40,0.45],[55,0.51],[75,0.41],[100,0.46],[140,0.4]],
  [[1,1],[3,0.33],[6,0.17],[10,0.3],[15,0.2],[22,0.27],[30,0.17],[40,0.25],[55,0.18],[75,0.23],[100,0.17],[140,0.21],[200,0.19]],
  [[1,0],[2,0.5],[5,0.4],[9,0.56],[14,0.43],[20,0.5],[28,0.39],[38,0.45],[52,0.37],[70,0.41],[95,0.35],[130,0.39],[180,0.36]],
  [[1,1],[3,0.33],[6,0.17],[10,0.1],[15,0.13],[22,0.05],[30,0.1],[40,0.03],[55,0.07],[75,0.04],[100,0.06]],
  [[1,0],[3,0.33],[6,0.5],[10,0.4],[15,0.47],[22,0.36],[30,0.43],[40,0.35],[55,0.4],[75,0.33],[100,0.37],[140,0.34],[200,0.36]],
  [[1,1],[2,0.5],[4,0.5],[7,0.29],[11,0.36],[16,0.25],[23,0.3],[32,0.22],[44,0.27],[60,0.2],[80,0.25],[110,0.21],[150,0.23]],
  [[1,0],[3,0.67],[6,0.83],[10,0.7],[15,0.6],[22,0.64],[30,0.53],[40,0.58],[55,0.49],[75,0.52],[100,0.46],[140,0.48]]
];
const tinyColors = ['cyan','blue','olive','pink','cyan','brown','blue','red','cyan','orange',
  'olive','green','pink','cyan','blue','brown','purple','cyan','red','olive','blue','pink','green','cyan','gray',
  'cyan','pink','orange','blue','olive','brown','cyan','red','green','purple','cyan','pink','olive','blue','gray',
  'cyan','orange','red','brown','green','cyan','pink','purple','cyan','olive','gray','blue','red','cyan','brown'];

const xTicks = [0, 2000, 4000, 6000, 8000, 10000];
const equalOdds = 0.25;

const palette = {
  blue: '#1f77b4', orange: '#ff7f0e', green: '#2ca02c', red: '#d62728', purple: '#9467bd',
  brown: '#8c564b', pink: '#e377c2', gray: '#7f7f7f', olive: '#bcbd22', cyan: '#17becf'
};

let chart = echarts.init(document.getElementById('chart'));

function runSeries(runs, colors, width) {
  return runs.map(function (run, i) {
    return {
      type: 'line',
      data: run,
      showSymbol: false,
      silent: true,
      clip: true,
      lineStyle: { color: palette[colors[i]], width: width, opacity: 0.8 }
    };
  });
}

let series = []
  .concat(runSeries(tinyRuns, tinyColors, 1.4))
  .concat(runSeries(zigRuns, zigColors, 1.3))
  .concat(runSeries(fanRuns, fanColors, 1.3))
  .concat(runSeries(midFanRuns, midFanColors, 1.1))
  .concat(runSeries(shortRuns, shortColors, 1))
  .concat(runSeries(midRuns, midColors, 1))
  .concat(runSeries(longRuns, longColors, 1));

// dashed "equal odds" line with its label
series.push({
  type: 'line',
  data: [],
  z: 10,
  markLine: {
    silent: true,
    symbol: 'none',
    lineStyle: { color: '#999', width: 1.5, type: [6, 3] },
    label: {
      show: true,
      position: 'insideEndBottom',
      distance: [3, 2],
      formatter: '"Equal" odds',
      fontFamily: 'DejaVu Sans',
      fontSize: 22,
      color: '#808080'
    },
    data: [{ yAxis: equalOdds }]
  }
});

const font = 'DejaVu Sans';

let option = {
  animation: false,
  backgroundColor: '#fff',
  title: {
    text: 'Win Ratio vs Games played (color=player)',
    left: 279,
    top: 82,
    textStyle: { fontFamily: font, fontSize: 16.7, fontWeight: 'normal', color: '#000' }
  },
  grid: {
    left: 113, right: 90, top: 108, bottom: 100,
    show: true, borderColor: '#000', borderWidth: 1, backgroundColor: 'transparent'
  },
  xAxis: {
    type: 'value',
    min: -500,
    max: 10470,
    name: 'Games played',
    nameLocation: 'middle',
    nameGap: 29,
    nameTextStyle: { fontFamily: font, fontSize: 13.9, color: '#000' },
    axisLine: { show: false },
    axisTick: { show: true, length: 5, customValues: xTicks, lineStyle: { color: '#000' } },
    axisLabel: {
      customValues: xTicks, margin: 10, fontFamily: font, fontSize: 13.9, color: '#000',
      formatter: function (v) { return String(v); }
    },
    splitLine: { show: true, lineStyle: { color: '#b0b0b0', width: 1 } }
  },
  yAxis: {
    type: 'value',
    min: 0,
    max: 0.5,
    interval: 0.1,
    name: 'Win Ratio',
    nameLocation: 'middle',
    nameGap: 39,
    nameTextStyle: { fontFamily: font, fontSize: 13.9, color: '#000' },
    axisLine: { show: false },
    axisTick: { show: true, length: 5, lineStyle: { color: '#000' } },
    axisLabel: {
      margin: 10, fontFamily: font, fontSize: 13.9, color: '#000',
      formatter: function (v) { return v.toFixed(1); }
    },
    splitLine: { show: true, lineStyle: { color: '#b0b0b0', width: 1 } }
  },
  series: series
};

chart.setOption(option);
</script>
</body>
</html>
